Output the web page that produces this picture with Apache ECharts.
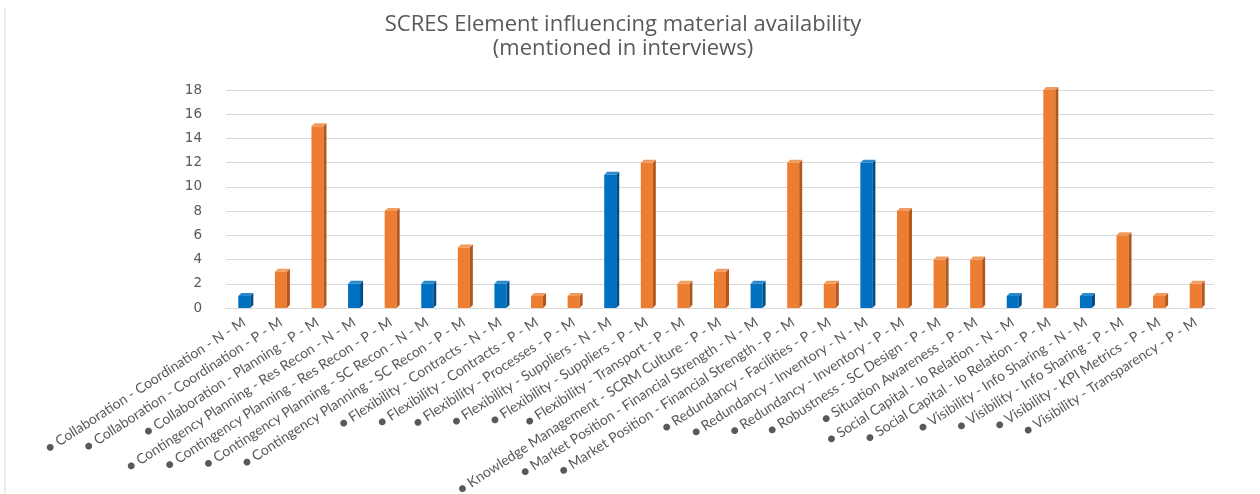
<!DOCTYPE html>
<html>
<head>
<meta charset="utf-8">
<script src="https://cdn.jsdelivr.net/npm/echarts@6/dist/echarts.min.js"></script>
<style>
  html, body { margin: 0; padding: 0; background: #fff; }
  #chart { width: 1260px; height: 494px; }
</style>
</head>
<body>
<div id="chart"></div>
<script>
const categories = [
  'Collaboration - Coordination - N - M',
  'Collaboration - Coordination - P - M',
  'Collaboration - Planning - P - M',
  'Contingency Planning - Res Recon - N - M',
  'Contingency Planning - Res Recon - P - M',
  'Contingency Planning - SC Recon - N - M',
  'Contingency Planning - SC Recon - P - M',
  'Flexibility - Contracts - N - M',
  'Flexibility - Contracts - P - M',
  'Flexibility - Processes - P - M',
  'Flexibility - Suppliers - N - M',
  'Flexibility - Suppliers - P - M',
  'Flexibility - Transport - P - M',
  'Knowledge Management - SCRM Culture - P - M',
  'Market Position - Financial Strength - N - M',
  'Market Position - Financial Strength - P - M',
  'Redundancy - Facilities - P - M',
  'Redundancy - Inventory - N - M',
  'Redundancy - Inventory - P - M',
  'Robustness - SC Design - P - M',
  'Situation Awareness - P - M',
  'Social Capital - Io Relation - N - M',
  'Social Capital - Io Relation - P - M',
  'Visibility - Info Sharing - N - M',
  'Visibility - Info Sharing - P - M',
  'Visibility - KPI Metrics - P - M',
  'Visibility - Transparency - P - M'
]
const mentions = [1, 3, 15, 2, 8, 2, 5, 2, 1, 1, 11, 12, 2, 3, 2, 12, 2, 12, 8, 4, 4, 1, 18, 1, 6, 1, 2]
const yTicks = [0, 18, 2]

const isNegative = name => name.includes(' - N - ')

const palette = {
  blue: { front: '#0070c0', side: '#004a85', top: '#2a88cc' },
  orange: { front: '#ed7d31', side: '#b2561b', top: '#f29b5e' }
}

// fake 3D column: front face + right side + top bevel
function renderBar(params, api) {
  const idx = api.value(0)
  const val = api.value(1)
  const base = api.coord([idx, 0])
  const top = api.coord([idx, val])
  const w = 12
  const d = 3
  const x0 = base[0] - w / 2
  const x1 = base[0] + w / 2
  const c = isNegative(categories[idx]) ? palette.blue : palette.orange
  return {
    type: 'group',
    children: [
      {
        type: 'rect',
        shape: { x: x0, y: top[1], width: w, height: base[1] - top[1] },
        style: { fill: c.front }
      },
      {
        type: 'polygon',
        shape: { points: [[x1, top[1]], [x1 + d, top[1] - d], [x1 + d, base[1] - d], [x1, base[1]]] },
        style: { fill: c.side }
      },
      {
        type: 'polygon',
        shape: { points: [[x0, top[1]], [x0 + d, top[1] - d], [x1 + d, top[1] - d], [x1, top[1]]] },
        style: { fill: c.top }
      }
    ]
  }
}

const chart = echarts.init(document.getElementById('chart'), null, { renderer: 'canvas' })

chart.setOption({
  backgroundColor: '#fff',
  animation: false,
  title: {
    text: 'SCRES Element influencing material availability\n(mentioned in interviews)',
    left: 618,
    textAlign: 'center',
    top: 8,
    textStyle: {
      fontFamily: 'Open Sans',
      fontSize: 22,
      fontWeight: 'normal',
      color: '#595959',
      lineHeight: 24
    }
  },
  graphic: [
    {
      type: 'line',
      shape: { x1: 5, y1: 8, x2: 5, y2: 494 },
      style: { stroke: '#d9d9d9', lineWidth: 1 }
    }
  ],
  grid: {
    left: 226,
    right: 46,
    top: 90,
    bottom: 186,
    outerBoundsMode: 'none'
  },
  xAxis: {
    type: 'category',
    data: categories,
    boundaryGap: true,
    axisLine: { lineStyle: { color: '#d9d9d9' } },
    axisTick: { show: false },
    axisLabel: {
      interval: 0,
      rotate: 33,
      margin: 13,
      fontFamily: 'Lato',
      fontSize: 14,
      color: '#595959',
      formatter: v => '\u25CF ' + v
    }
  },
  yAxis: {
    type: 'value',
    min: yTicks[0],
    max: yTicks[1],
    interval: yTicks[2],
    axisLine: { show: false },
    axisTick: { show: false },
    axisLabel: {
      margin: 24,
      fontFamily: 'DejaVu Sans',
      fontSize: 13.5,
      color: '#595959'
    },
    splitLine: { lineStyle: { color: '#d9d9d9', width: 1 } }
  },
  series: [
    {
      name: 'Mentions',
      type: 'custom',
      renderItem: renderBar,
      encode: { x: 0, y: 1 },
      data: mentions.map((v, i) => [i, v])
    }
  ]
})
</script>
</body>
</html>
